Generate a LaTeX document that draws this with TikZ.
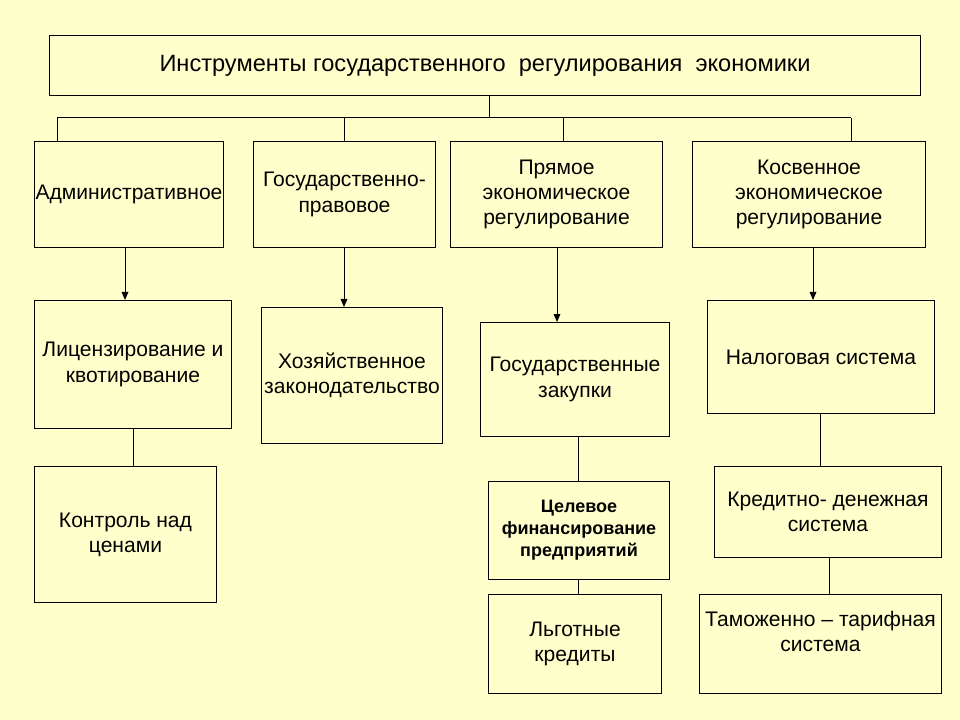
\documentclass[tikz,border=0pt]{standalone}
\usepackage{fontspec}
\setmainfont{Liberation Sans}
\usetikzlibrary{positioning,arrows.meta}
\definecolor{slidebg}{RGB}{255,255,204}
\tikzset{
  block/.style 2 args={
      draw,
      line width=0.75pt,
      fill=slidebg,
      anchor=north west,
      align=center,
      inner sep=0pt,
      minimum width=#1*0.75pt,
      minimum height=#2*0.75pt,
      font=\fontsize{15.8}{18.9}\selectfont,
  },
  smallblock/.style={
      font=\bfseries\fontsize{13.5}{16.5}\selectfont,
  },
  link/.style={
      draw,
      line width=0.75pt,
  },
  arrowlink/.style={
      link,
      -{Triangle[length=6pt,width=5pt]},
  },
}

\begin{document}
\begin{tikzpicture}[x=0.75pt,y=-0.75pt]
  \fill[slidebg] (0,0) rectangle (960,720);
  \useasboundingbox (0,0) rectangle (960,720);

  % top
  \node[block={871}{60},font=\fontsize{17.7}{21}\selectfont] (instr) at (49,35)
      {Инструменты государственного\ \ регулирования\ \ экономики};

  % first level
  \node[block={189}{106}] (admin) at (34,141) {Административное};
  \node[block={182}{106}] (pravo) at (253,141) {Государственно-\\правовое};
  \node[block={212}{106}] (pryam) at (450,141) {Прямое\\экономическое\\регулирование};
  \node[block={233}{106}] (kosv) at (692,141) {Косвенное\\экономическое\\регулирование};

  % second level
  \node[block={197}{128}] (licen) at (34,300) {Лицензирование и\\квотирование};
  \node[block={182}{136}] (kontrol) at (34,466) {Контроль над\\ценами};
  \node[block={181}{136}] (hozzak) at (261,307) {Хозяйственное\\законодательство};
  \node[block={189}{114}] (zakup) at (480,322) {Государственные\\закупки};
  \node[block={181}{98},smallblock] (celfin) at (488,481) {Целевое\\финансирование\\предприятий};
  \node[block={173}{99}] (lgot) at (488,594) {Льготные\\кредиты};
  \node[block={227}{113}] (nalog) at (707,300) {Налоговая система};
  \node[block={227}{91}] (kredit) at (714,466) {Кредитно- денежная\\система};
  \node[block={242}{99}] (tamozh) at (699,594) {Таможенно -- тарифная\\система\\ \mbox{}};

  % bus
  \coordinate (stem) at (489,118);
  \coordinate (busa) at (57,118);
  \coordinate (busb) at (344,118);
  \coordinate (busc) at (563,118);
  \coordinate (busd) at (851,118);
  \draw[link] (instr.south -| stem) -- (stem);
  \draw[link] (busa) -- (busd);
  \draw[link] (busa) -- (busa |- admin.north);
  \draw[link] (busb) -- (busb |- pravo.north);
  \draw[link] (busc) -- (busc |- pryam.north);
  \draw[link] (busd) -- (busd |- kosv.north);

  % arrows down
  \coordinate (arra) at (125,0);
  \coordinate (arrb) at (344,0);
  \coordinate (arrc) at (557,0);
  \coordinate (arrd) at (813,0);
  \draw[arrowlink] (arra |- admin.south) -- (arra |- licen.north);
  \draw[arrowlink] (arrb |- pravo.south) -- (arrb |- hozzak.north);
  \draw[arrowlink] (arrc |- pryam.south) -- (arrc |- zakup.north);
  \draw[arrowlink] (arrd |- kosv.south) -- (arrd |- nalog.north);

  % plain lines
  \coordinate (lna) at (133,0);
  \coordinate (lnb) at (578,0);
  \coordinate (lnc) at (820,0);
  \coordinate (lnd) at (829,0);
  \draw[link] (lna |- licen.south) -- (lna |- kontrol.north);
  \draw[link] (lnb |- zakup.south) -- (lnb |- celfin.north);
  \draw[link] (lnb |- celfin.south) -- (lnb |- lgot.north);
  \draw[link] (lnc |- nalog.south) -- (lnc |- kredit.north);
  \draw[link] (lnd |- kredit.south) -- (lnd |- tamozh.north);
\end{tikzpicture}
\end{document}
